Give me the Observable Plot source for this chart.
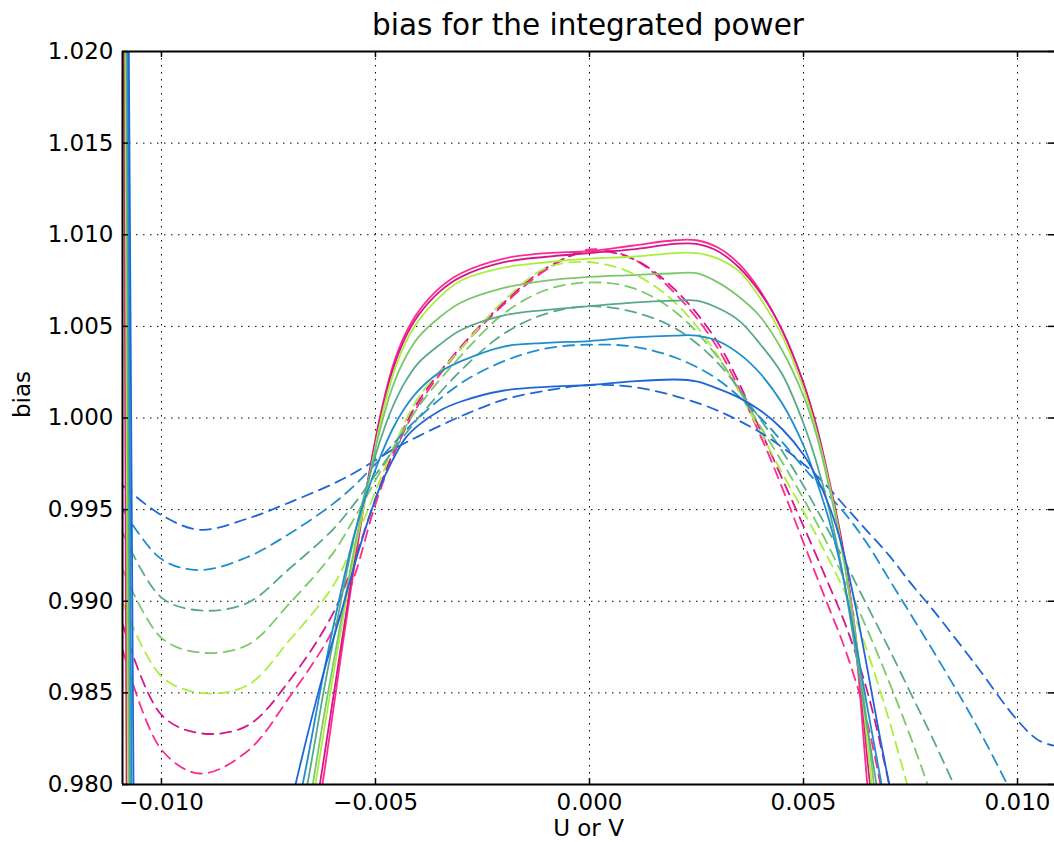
<!DOCTYPE html>
<html><head><meta charset="utf-8">
<script src="https://cdn.jsdelivr.net/npm/d3@7"></script>
<script src="https://cdn.jsdelivr.net/npm/@observablehq/plot@0.6"></script>
<style>
body{margin:0;background:#fff;font-family:"DejaVu Sans",sans-serif;}
#title{width:1054px;height:44px;box-sizing:border-box;padding-left:122px;text-align:center;font-size:29.5px;line-height:50px;color:#000;white-space:nowrap;}
#chart svg{display:block;overflow:visible;}
</style></head><body>
<div id="title"></div>
<div id="chart"></div>
<script>
const title = "bias for the integrated power";
const xLabel = "U or V";
const yLabel = "bias";
const xTicks = [-0.010, -0.005, 0.000, 0.005, 0.010];
const yTicks = [0.980, 0.985, 0.990, 0.995, 1.000, 1.005, 1.010, 1.015, 1.020];
const xDomain = [-0.01091, 0.010864];
const yDomain = [0.980, 1.020];

const seriesNames = ["S1", "S2", "S3", "S4", "S5", "S6", "S7"];
const seriesColors = ["#ff2a8f", "#d4178c", "#a9ef3b", "#7cc86c", "#58a98b", "#1f8ecd", "#1e66d6"];

// dashed curves
const dashX = [-0.0109, -0.0100, -0.0091, -0.0080, -0.0070, -0.0060, -0.0055, -0.0050, -0.0045, -0.0040, -0.0030, -0.0020, -0.0010, 0.0000, 0.0010, 0.0020, 0.0030, 0.0040, 0.0045, 0.0050, 0.0055, 0.0060, 0.0065, 0.0070, 0.0075, 0.0080, 0.0090, 0.0100, 0.0105, 0.0109];
const dashS1 = [0.9873, 0.9819, 0.9806, 0.9818, 0.9848, 0.9884, 0.9913, 0.9953, 0.9984, 1.0007, 1.0038, 1.0062, 1.0081, 1.0092, 1.0087, 1.0068, 1.0038, 0.9990, 0.9962, 0.9932, 0.9902, 0.9872, 0.9833, 0.9775, null, null, null, null, null, null];
const dashS2 = [0.9887, 0.9838, 0.9828, 0.9832, 0.9857, 0.9893, 0.9922, 0.9956, 0.9986, 1.0009, 1.0039, 1.0063, 1.0082, 1.0091, 1.0087, 1.0070, 1.0041, 0.9993, 0.9967, 0.9941, 0.9914, 0.9886, 0.9850, 0.9800, 0.9740, null, null, null, null, null];
const dashS3 = [0.9899, 0.9859, 0.9850, 0.9854, 0.9879, 0.9908, 0.9932, 0.9960, 0.9988, 1.0011, 1.0038, 1.0064, 1.0082, 1.0085, 1.0079, 1.0063, 1.0034, 0.9992, 0.9970, 0.9949, 0.9927, 0.9903, 0.9872, 0.9835, 0.9793, 0.9745, null, null, null, null];
const dashS4 = [0.9917, 0.9880, 0.9872, 0.9876, 0.9899, 0.9926, 0.9945, 0.9966, 0.9987, 1.0006, 1.0034, 1.0057, 1.0070, 1.0074, 1.0071, 1.0058, 1.0033, 0.9995, 0.9976, 0.9956, 0.9934, 0.9910, 0.9884, 0.9856, 0.9826, 0.9793, 0.9720, null, null, null];
const dashS5 = [0.9937, 0.9902, 0.9895, 0.9899, 0.9918, 0.9939, 0.9953, 0.9969, 0.9985, 1.0000, 1.0026, 1.0046, 1.0057, 1.0061, 1.0058, 1.0049, 1.0030, 0.9999, 0.9982, 0.9963, 0.9942, 0.9920, 0.9897, 0.9874, 0.9850, 0.9826, 0.9775, null, null, null];
const dashS6 = [0.9950, 0.9923, 0.9917, 0.9924, 0.9937, 0.9953, 0.9963, 0.9975, 0.9988, 1.0000, 1.0019, 1.0031, 1.0038, 1.0040, 1.0039, 1.0033, 1.0021, 1.0000, 0.9987, 0.9973, 0.9960, 0.9947, 0.9931, 0.9912, 0.9893, 0.9874, 0.9834, 0.9789, 0.9765, null];
const dashS7 = [0.9963, 0.9947, 0.9939, 0.9945, 0.9954, 0.9964, 0.9970, 0.9977, 0.9984, 0.9990, 1.0001, 1.0010, 1.0015, 1.0018, 1.0017, 1.0012, 1.0004, 0.9992, 0.9984, 0.9975, 0.9964, 0.9951, 0.9938, 0.9925, 0.9910, 0.9896, 0.9866, 0.9835, 0.9824, 0.9821];

// solid curves (main body)
const solidX = [-0.0070, -0.0066, -0.0062, -0.0058, -0.0055, -0.0052, -0.0049, -0.0046, -0.0043, -0.0040, -0.0035, -0.0030, -0.0020, -0.0010, 0.0000, 0.0010, 0.0020, 0.0025, 0.0030, 0.0035, 0.0040, 0.0045, 0.0050, 0.0053, 0.0056, 0.0059, 0.0062, 0.0065, 0.0068, 0.0071];
const solidS1 = [null, 0.9746, 0.9806, 0.9871, 0.9918, 0.9962, 1.0000, 1.0028, 1.0046, 1.0058, 1.0071, 1.0079, 1.0087, 1.0090, 1.0091, 1.0094, 1.0097, 1.0097, 1.0093, 1.0084, 1.0069, 1.0048, 1.0019, 0.9995, 0.9964, 0.9930, 0.9880, 0.9798, 0.9730, null];
const solidS2 = [null, 0.9755, 0.9815, 0.9876, 0.9921, 0.9963, 0.9999, 1.0026, 1.0044, 1.0056, 1.0069, 1.0077, 1.0085, 1.0088, 1.0090, 1.0092, 1.0095, 1.0095, 1.0091, 1.0082, 1.0068, 1.0048, 1.0019, 0.9996, 0.9966, 0.9932, 0.9885, 0.9812, 0.9745, null];
const solidS3 = [null, 0.9770, 0.9830, 0.9885, 0.9925, 0.9960, 0.9996, 1.0023, 1.0041, 1.0053, 1.0066, 1.0075, 1.0082, 1.0085, 1.0087, 1.0088, 1.0090, 1.0090, 1.0087, 1.0080, 1.0065, 1.0045, 1.0016, 0.9993, 0.9964, 0.9929, 0.9883, 0.9821, 0.9750, null];
const solidS4 = [0.9740, 0.9782, 0.9838, 0.9890, 0.9928, 0.9962, 0.9993, 1.0017, 1.0033, 1.0044, 1.0055, 1.0063, 1.0071, 1.0075, 1.0077, 1.0078, 1.0079, 1.0079, 1.0074, 1.0066, 1.0055, 1.0037, 1.0012, 0.9991, 0.9962, 0.9928, 0.9884, 0.9830, 0.9765, null];
const solidS5 = [0.9753, 0.9799, 0.9852, 0.9901, 0.9935, 0.9963, 0.9987, 1.0006, 1.0020, 1.0030, 1.0040, 1.0048, 1.0056, 1.0059, 1.0061, 1.0063, 1.0064, 1.0064, 1.0060, 1.0053, 1.0040, 1.0024, 0.9997, 0.9976, 0.9950, 0.9917, 0.9875, 0.9830, 0.9786, 0.9740];
const solidS6 = [0.9765, 0.9812, 0.9862, 0.9906, 0.9936, 0.9959, 0.9978, 0.9994, 1.0006, 1.0015, 1.0025, 1.0031, 1.0039, 1.0041, 1.0042, 1.0044, 1.0045, 1.0045, 1.0042, 1.0035, 1.0024, 1.0008, 0.9985, 0.9966, 0.9944, 0.9916, 0.9880, 0.9841, 0.9803, 0.9762];
const solidS7 = [0.9787, 0.9826, 0.9862, 0.9894, 0.9919, 0.9942, 0.9962, 0.9977, 0.9989, 0.9996, 1.0004, 1.0009, 1.0015, 1.0017, 1.0018, 1.0020, 1.0021, 1.0020, 1.0016, 1.0011, 1.0004, 0.9994, 0.9980, 0.9968, 0.9952, 0.9930, 0.9899, 0.9862, 0.9824, 0.9789];

// near-vertical branches of the solid curves at the left edge
const spikeV = [1.021, 0.979];
const spikeTopX    = [-0.010878, -0.010866, -0.010845, -0.010822, -0.010810, -0.010787, -0.010765];
const spikeBottomX = [-0.010815, -0.010803, -0.010780, -0.010756, -0.010733, -0.010698, -0.010650];

const dashVals = [dashS1, dashS2, dashS3, dashS4, dashS5, dashS6, dashS7];
const solidVals = [solidS1, solidS2, solidS3, solidS4, solidS5, solidS6, solidS7];

const dashedRows = seriesNames.flatMap((s, i) => dashX.map((x, j) => ({series: s, x, y: dashVals[i][j]})));
const solidRows = seriesNames.flatMap((s, i) => [
  {series: s, x: spikeTopX[i], y: spikeV[0]},
  {series: s, x: spikeBottomX[i], y: spikeV[1]},
  {series: s, x: spikeBottomX[i], y: null},
  ...solidX.map((x, j) => ({series: s, x, y: solidVals[i][j]}))
]);

document.getElementById("title").textContent = title;

const fmt = d3.format(".3f");
const W = 1054, H = 798, mL = 122, mR = 0, mT = 7, mB = 58;
const pw = W - mL - mR, ph = H - mT - mB, tick = 6;
const gridStyle = {stroke: "#000", strokeWidth: 1, strokeDasharray: "1.5,5.5"};

const chart = Plot.plot({
  width: W, height: H,
  marginLeft: mL, marginRight: mR, marginTop: mT, marginBottom: mB,
  x: {domain: xDomain},
  y: {domain: yDomain},
  color: {type: "ordinal", domain: seriesNames, range: seriesColors},
  style: {fontFamily: "'DejaVu Sans', sans-serif", fontSize: "23px", color: "#000", background: "transparent", overflow: "visible"},
  marks: [
    Plot.ruleX(xTicks, gridStyle),
    Plot.ruleY(yTicks, gridStyle),
    Plot.line(dashedRows, {x: "x", y: "y", z: "series", stroke: "series", strokeWidth: 1.8, strokeDasharray: "11,7", curve: "catmull-rom", clip: true}),
    Plot.line(solidRows, {x: "x", y: "y", z: "series", stroke: "series", strokeWidth: 1.8, curve: "catmull-rom", clip: true}),
    Plot.tickY(yTicks, {y: d => d, stroke: "#000", strokeWidth: 1.5, insetRight: pw - tick}),
    Plot.tickY(yTicks, {y: d => d, stroke: "#000", strokeWidth: 1.5, insetLeft: pw - tick}),
    Plot.tickX(xTicks, {x: d => d, stroke: "#000", strokeWidth: 1.5, insetTop: ph - tick}),
    Plot.tickX(xTicks, {x: d => d, stroke: "#000", strokeWidth: 1.5, insetBottom: ph - tick}),
    Plot.ruleX([xDomain[0]], {stroke: "#000", strokeWidth: 2}),
    Plot.ruleY(yDomain, {stroke: "#000", strokeWidth: 2}),
    Plot.axisX(xTicks, {tickSize: 0, tickPadding: 9, tickFormat: fmt, fontSize: 23, label: null}),
    Plot.axisY(yTicks, {tickSize: 0, tickPadding: 9, tickFormat: fmt, fontSize: 23, label: null}),
    Plot.text([xLabel], {frameAnchor: "bottom", dy: 51, fontSize: 23, text: d => d}),
    Plot.text([yLabel], {frameAnchor: "left", dx: -100, rotate: -90, fontSize: 23, text: d => d})
  ]
});
document.getElementById("chart").appendChild(chart);
</script>
</body></html>
